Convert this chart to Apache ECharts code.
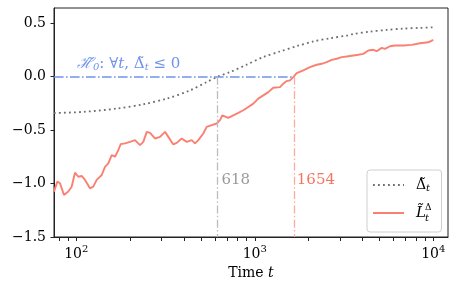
<!DOCTYPE html>
<html><head><meta charset="utf-8">
<script src="https://cdn.jsdelivr.net/npm/echarts@6/dist/echarts.min.js"></script>
<style>html,body{margin:0;padding:0;background:#fff}#c{width:457px;height:289px}</style>
</head><body><div id="c"></div>
<script>
// ---- data ----
const timeDelta = [75, 109.4, 168.4, 237.4, 320.9, 433.5, 537.7, 618, 726, 901, 1116, 1384, 1717, 2127, 2638, 3272, 3563, 4420, 5482, 6792, 8423, 10000];
const valueDelta = [-0.340, -0.329, -0.298, -0.258, -0.205, -0.128, -0.050, 0.0, 0.043, 0.113, 0.184, 0.236, 0.286, 0.330, 0.360, 0.385, 0.400, 0.422, 0.438, 0.450, 0.457, 0.462];

const timeL = [75, 78.3, 81, 85.3, 90.2, 94.2, 98.3, 102.6, 107.2, 111.9, 119.3, 124.5, 130.1, 138.8, 144.8, 151.1, 157.9, 164.8, 171.9, 177.4, 187.4, 199.9, 213.2, 227.5, 237.4, 248, 258.8, 276, 294.4, 314.1, 327.8, 349.5, 365.2, 389.5, 415.5, 443.2, 462.4, 482.5, 514.6, 537.7, 573.5, 611.8, 638.3, 657.6, 710.5, 757.9, 808.4, 862.3, 919.6, 980.9, 1046, 1190, 1269, 1384, 1444, 1509, 1575, 1643, 1717, 1870, 2038, 2223, 2370, 2528, 2697, 2876, 3068, 3272, 3563, 3800, 4053, 4324, 4612, 4818, 5139, 5364, 5721, 6102, 6792, 7568, 8423, 9376, 10000];
const valueL = [-1.075, -0.982, -0.997, -1.106, -1.075, -1.029, -0.898, -0.936, -0.929, -0.966, -1.044, -1.029, -0.966, -0.920, -0.843, -0.811, -0.733, -0.749, -0.687, -0.631, -0.624, -0.610, -0.594, -0.640, -0.610, -0.516, -0.526, -0.578, -0.563, -0.516, -0.563, -0.634, -0.619, -0.578, -0.610, -0.594, -0.624, -0.594, -0.531, -0.470, -0.454, -0.438, -0.407, -0.361, -0.386, -0.361, -0.339, -0.314, -0.283, -0.252, -0.205, -0.144, -0.103, -0.097, -0.065, -0.041, -0.034, -0.004, 0.034, 0.059, 0.089, 0.112, 0.121, 0.136, 0.158, 0.168, 0.183, 0.189, 0.199, 0.205, 0.214, 0.245, 0.252, 0.239, 0.270, 0.261, 0.285, 0.292, 0.292, 0.298, 0.313, 0.322, 0.345];

const xMajorTicks = [100, 1000, 10000];
const xMinorTicks = [80, 90, 200, 300, 400, 500, 600, 700, 800, 900, 2000, 3000, 4000, 5000, 6000, 7000, 8000, 9000];
const yTicks = [-1.5, -1.0, -0.5, 0.0, 0.5];
const xRange = [75, 12090];
const yRange = [-1.5, 0.643];
const crossDelta = 618;
const crossL = 1654;
const h0Level = 0;
const crossLabelY = -0.966;

// ---- chart ----
const lg = Math.log10;
const SERIF = "'DejaVu Serif', serif";
const BLUE = '#7092ee';
const chart = echarts.init(document.getElementById('c'), null, {renderer: 'canvas'});

const xMin = lg(xRange[0]), xMax = lg(xRange[1]);
const allXTicks = xMajorTicks.concat(xMinorTicks).map(lg).sort((a, b) => a - b);

chart.setOption({
  animation: false,
  backgroundColor: '#fff',
  grid: {left: 54, right: 9, top: 8, bottom: 52, show: true, borderColor: '#222', borderWidth: 1, outerBoundsMode: 'none'},
  xAxis: {
    type: 'value', min: xMin, max: xMax, splitLine: {show: false},
    axisLine: {show: true, onZero: false, lineStyle: {color: '#222', width: 1}},
    axisTick: {show: true, inside: false, length: 4, customValues: allXTicks, lineStyle: {color: '#222', width: 1}},
    axisLabel: {
      customValues: xMajorTicks.map(lg), margin: 7,
      formatter: v => '{b|10}{sup|' + Math.round(v) + '}',
      rich: {
        b: {fontSize: 14, fontFamily: SERIF, color: '#000', lineHeight: 16},
        sup: {fontSize: 10, fontFamily: SERIF, color: '#000', padding: [0, 0, 11, 0]}
      }
    },
    name: 'Time {it|t}', nameLocation: 'middle', nameGap: 29,
    nameTextStyle: {fontSize: 14, fontFamily: SERIF, color: '#000',
      rich: {it: {fontSize: 14, fontFamily: SERIF, fontStyle: 'italic', color: '#000'}}}
  },
  yAxis: {
    type: 'value', min: yRange[0], max: yRange[1], splitLine: {show: false},
    axisLine: {show: true, onZero: false, lineStyle: {color: '#222', width: 1}},
    axisTick: {show: true, length: 3.5, customValues: yTicks, lineStyle: {color: '#222', width: 1}},
    axisLabel: {customValues: yTicks, margin: 8, fontSize: 14, fontFamily: SERIF, color: '#000',
      formatter: v => (v < 0 ? '\u2212' : '') + Math.abs(v).toFixed(1)}
  },
  legend: {
    data: ['Delta', 'L'], orient: 'vertical', left: 367, top: 170,
    padding: [8, 10, 9, 5], itemGap: 10, itemWidth: 31, itemHeight: 14,
    itemStyle: {opacity: 0, borderWidth: 0},
    backgroundColor: 'rgba(255,255,255,0.85)', borderColor: '#cfcfcf', borderWidth: 1, borderRadius: 3,
    formatter: name => name === 'Delta'
      ? '{d|\u0394\u0303}{sub|t}'
      : '{sp|\u0394}\n{L|L\u0303}\n{sb|t}',
    textStyle: {
      color: '#000', fontFamily: SERIF, fontSize: 14,
      rich: {
        d: {fontSize: 14, fontFamily: SERIF, color: '#000', lineHeight: 16, padding: [0, 0, 0, 7]},
        sub: {fontSize: 10, fontFamily: SERIF, fontStyle: 'italic', color: '#000', padding: [7, 0, 0, 0]},
        sp: {fontSize: 9, fontFamily: SERIF, color: '#000', lineHeight: 6, padding: [0, 0, 0, 16]},
        L: {fontSize: 15, fontFamily: SERIF, fontStyle: 'italic', color: '#000', lineHeight: 4, padding: [0, 0, 0, 7]},
        sb: {fontSize: 10, fontFamily: SERIF, fontStyle: 'italic', color: '#000', lineHeight: 6, padding: [0, 0, 0, 16]}
      }
    }
  },
  series: [
    {
      name: 'H0', type: 'line', data: [], symbol: 'none', silent: true, z: 4,
      markLine: {
        silent: true, symbol: 'none', animation: false,
        lineStyle: {color: BLUE, width: 1.6, type: [9.6, 2.4, 1.6, 2.4]},
        label: {
          show: true, position: 'insideStartTop', distance: 4,
          formatter: '{h|\u210B\u0303}{s|0}{n|: \u2200}{i|t}{n|, \u0394\u0303}{s|t}{n| \u2264 0}',
          rich: {
            h: {fontSize: 15, fontFamily: SERIF, fontStyle: 'italic', color: BLUE, lineHeight: 18, padding: [0, 0, 0, 19]},
            s: {fontSize: 10, fontFamily: SERIF, fontStyle: 'italic', color: BLUE, padding: [7, 0, 0, 0]},
            n: {fontSize: 15, fontFamily: SERIF, color: BLUE},
            i: {fontSize: 15, fontFamily: SERIF, fontStyle: 'italic', color: BLUE}
          }
        },
        data: [[{coord: [xMin, h0Level]}, {coord: [lg(crossL), h0Level]}]]
      }
    },
    {
      name: 'Delta', type: 'line', symbol: 'none', smooth: 0.3, z: 3,
      data: timeDelta.map((t, i) => [lg(t), valueDelta[i]]),
      lineStyle: {color: '#6e6e6e', width: 1.8, type: [1.8, 3.2]},
      itemStyle: {color: '#6e6e6e'},
      markLine: {
        silent: true, symbol: 'none', animation: false,
        lineStyle: {color: '#bdbdbd', width: 1.3, type: [8, 2.4, 1.5, 2.4]},
        label: {show: false},
        data: [[{coord: [lg(crossDelta), h0Level]}, {coord: [lg(crossDelta), yRange[0]]}]]
      },
      markPoint: {
        silent: true, symbol: 'circle', symbolSize: 0, animation: false,
        label: {show: true, position: 'right', distance: 4, formatter: String(crossDelta),
          fontSize: 15, fontFamily: SERIF, color: '#9a9a9a'},
        data: [{coord: [lg(crossDelta), crossLabelY]}]
      }
    },
    {
      name: 'L', type: 'line', symbol: 'none', z: 2,
      data: timeL.map((t, i) => [lg(t), valueL[i]]),
      lineStyle: {color: '#fa8072', width: 1.9},
      itemStyle: {color: '#fa8072'},
      markLine: {
        silent: true, symbol: 'none', animation: false,
        lineStyle: {color: '#fdab9f', width: 1.3, type: [8, 2.4, 1.5, 2.4]},
        label: {show: false},
        data: [[{coord: [lg(crossL), h0Level]}, {coord: [lg(crossL), yRange[0]]}]]
      },
      markPoint: {
        silent: true, symbol: 'circle', symbolSize: 0, animation: false,
        label: {show: true, position: 'right', distance: 3, formatter: String(crossL),
          fontSize: 15, fontFamily: SERIF, color: '#f6735f'},
        data: [{coord: [lg(crossL), crossLabelY]}]
      }
    }
  ]
});
</script>
</body></html>
